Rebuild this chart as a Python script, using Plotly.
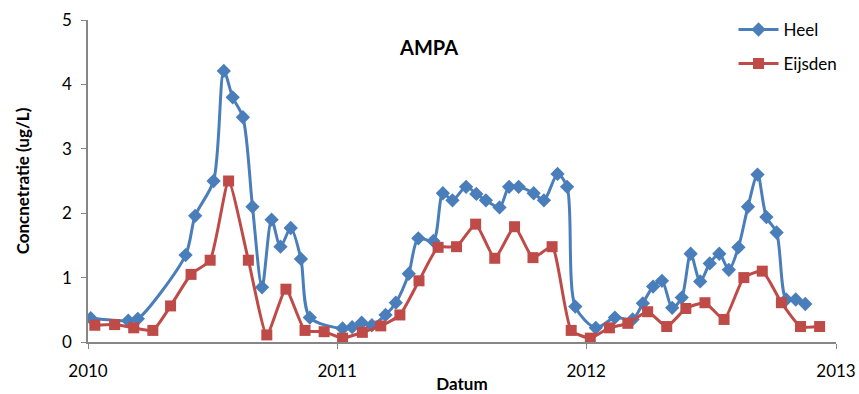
import plotly.graph_objects as go

# Heel: tweewekelijkse metingen
heel_dates = [
    "2010-01-05", "2010-03-01", "2010-03-15", "2010-05-24", "2010-06-07", "2010-07-04",
    "2010-07-19", "2010-08-01", "2010-08-16", "2010-08-30", "2010-09-13", "2010-09-27",
    "2010-10-10", "2010-10-25", "2010-11-09", "2010-11-22",
    "2011-01-09", "2011-01-23", "2011-02-06", "2011-02-21", "2011-03-13", "2011-03-28",
    "2011-04-16", "2011-04-30", "2011-05-22", "2011-06-05", "2011-06-19", "2011-07-09",
    "2011-07-24", "2011-08-07", "2011-08-27", "2011-09-10", "2011-09-24", "2011-10-16",
    "2011-10-31", "2011-11-20", "2011-12-04", "2011-12-16",
    "2012-01-15", "2012-02-12", "2012-03-09", "2012-03-24", "2012-04-08", "2012-04-21",
    "2012-05-06", "2012-05-20", "2012-06-02", "2012-06-16", "2012-06-30", "2012-07-14",
    "2012-07-28", "2012-08-11", "2012-08-25", "2012-09-08", "2012-09-21", "2012-10-06",
    "2012-10-20", "2012-11-03", "2012-11-17",
]
heel_values = [
    0.37, 0.33, 0.36, 1.35, 1.96, 2.50,
    4.21, 3.80, 3.49, 2.10, 0.85, 1.90,
    1.48, 1.77, 1.29, 0.38,
    0.21, 0.23, 0.30, 0.26, 0.42, 0.61,
    1.06, 1.61, 1.57, 2.31, 2.20, 2.41,
    2.30, 2.20, 2.09, 2.41, 2.41, 2.31,
    2.20, 2.61, 2.41, 0.55,
    0.22, 0.38, 0.35, 0.60, 0.86, 0.95,
    0.53, 0.69, 1.37, 0.94, 1.22, 1.37,
    1.12, 1.47, 2.10, 2.60, 1.94, 1.70,
    0.66, 0.66, 0.59,
]

# Eijsden: vierwekelijkse metingen
eijsden_dates = [
    "2010-01-11", "2010-02-09", "2010-03-09", "2010-04-06", "2010-05-02", "2010-06-01",
    "2010-06-29", "2010-07-26", "2010-08-24", "2010-09-20", "2010-10-18", "2010-11-15",
    "2010-12-13", "2011-01-09", "2011-02-07", "2011-03-06", "2011-04-03", "2011-05-01",
    "2011-05-29", "2011-06-25", "2011-07-23", "2011-08-20", "2011-09-18", "2011-10-15",
    "2011-11-12", "2011-12-10", "2012-01-07", "2012-02-04", "2012-03-02", "2012-03-31",
    "2012-04-28", "2012-05-26", "2012-06-23", "2012-07-21", "2012-08-19", "2012-09-15",
    "2012-10-13", "2012-11-10", "2012-12-08",
]
eijsden_values = [
    0.26, 0.27, 0.22, 0.18, 0.56, 1.05,
    1.27, 2.50, 1.27, 0.11, 0.82, 0.18,
    0.16, 0.06, 0.15, 0.25, 0.42, 0.95,
    1.47, 1.48, 1.83, 1.30, 1.79, 1.31,
    1.48, 0.18, 0.06, 0.22, 0.29, 0.47,
    0.24, 0.52, 0.61, 0.35, 1.00, 1.10,
    0.61, 0.24, 0.24,
]

year_ticks = ["2010-01-01", "2011-01-01", "2012-01-01", "2013-01-01"]
year_labels = ["2010", "2011", "2012", "2013"]

BLUE = "#4A7EBB"
RED = "#BE4B48"
AXIS = "#868686"
FONT = "Lato, 'Open Sans', sans-serif"

fig = go.Figure()
fig.add_trace(go.Scatter(
    x=heel_dates, y=heel_values, name="Heel", legendgroup="a",
    mode="lines+markers",
    line=dict(color=BLUE, width=3, shape="spline", smoothing=0.8),
    marker=dict(symbol="diamond", size=11, color=BLUE),
))
fig.add_trace(go.Scatter(
    x=eijsden_dates, y=eijsden_values, name="Eijsden", legendgroup="b",
    mode="lines+markers",
    line=dict(color=RED, width=3, shape="spline", smoothing=0.5),
    marker=dict(symbol="square", size=11, color=RED),
))

fig.update_layout(
    width=859, height=394,
    margin=dict(l=88, r=23, t=20, b=52),
    paper_bgcolor="white", plot_bgcolor="white",
    font=dict(family=FONT, size=17, color="black"),
    showlegend=True,
    legend=dict(
        x=0.863, y=1.025, xanchor="left", yanchor="top",
        bgcolor="rgba(0,0,0,0)", font=dict(size=17),
        traceorder="grouped", tracegroupgap=9, itemwidth=40,
    ),
    annotations=[dict(
        text="<b>AMPA</b>", x=0.455, y=0.915, xref="paper", yref="paper",
        xanchor="center", yanchor="middle", showarrow=False,
        font=dict(size=20, family=FONT),
    )],
)
fig.update_xaxes(
    type="date", range=["2010-01-01", "2013-01-01"],
    tickvals=year_ticks, ticktext=year_labels,
    showline=True, linecolor=AXIS, linewidth=1.5,
    ticks="outside", ticklen=5, tickcolor=AXIS,
    showgrid=False, zeroline=False, automargin=False,
    tickfont=dict(size=17), ticklabelstandoff=8,
    title=dict(text="<b>Datum</b>", font=dict(size=17), standoff=3),
)
fig.update_yaxes(
    range=[0, 5], dtick=1, tick0=0,
    showline=True, linecolor=AXIS, linewidth=1.5,
    ticks="outside", ticklen=5, tickcolor=AXIS,
    showgrid=False, zeroline=False, automargin=False,
    tickfont=dict(size=17), ticklabelstandoff=6,
    title=dict(text="<b>Concnetratie (ug/L)</b>", font=dict(size=17), standoff=28),
)

fig.write_html("out.html")
